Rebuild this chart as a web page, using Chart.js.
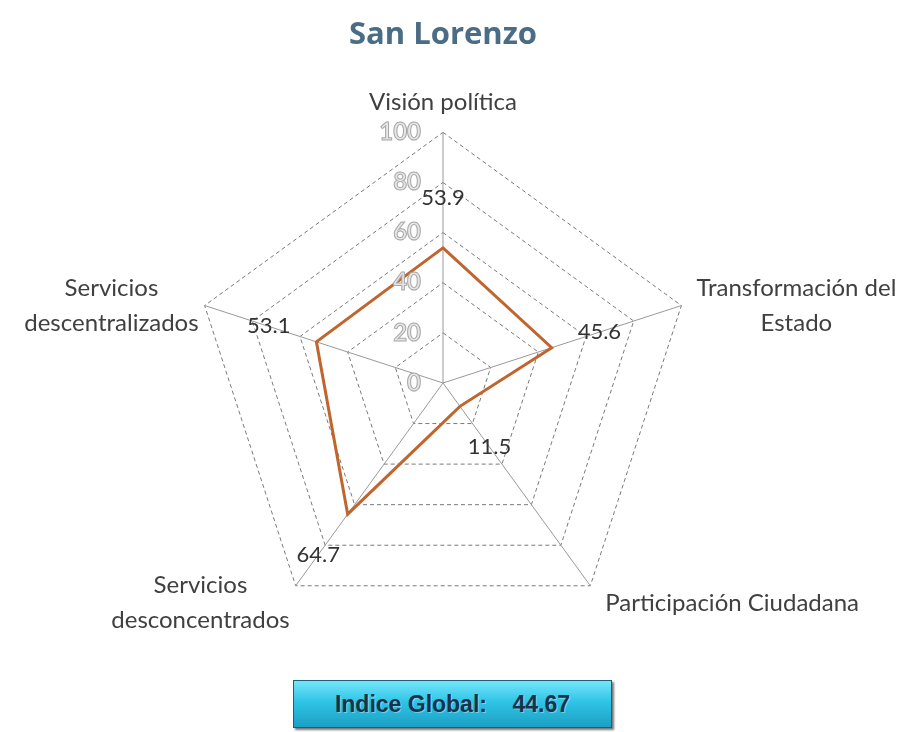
<!DOCTYPE html>
<html>
<head>
<meta charset="utf-8">
<script src="https://cdn.jsdelivr.net/npm/chart.js@4.4.0/dist/chart.umd.min.js"></script>
<style>
  body { margin: 0; background: #fff; }
  #wrap { position: relative; width: 909px; height: 732px; }
  #box { position: absolute; left: 293px; top: 680px; width: 317px; height: 46px;
    background: linear-gradient(#74e6fa, #2fc4e6 45%, #1b9fc4);
    border: 1px solid #1d5f74; box-shadow: 2px 2px 2px #777;
    font: bold 23px "Liberation Sans", Arial, sans-serif; color: #17324a;
    text-shadow: 1px 1px 0 rgba(255,255,255,0.35);
    text-align: center; line-height: 46px; white-space: pre; }
</style>
</head>
<body>
<div id="wrap">
  <canvas id="radar" width="909" height="670"></canvas>
  <div id="box">Indice Global:    44.67</div>
</div>
<script>
const chartTitle = "San Lorenzo";
const categories = ["Visión política", ["Transformación del", "Estado"], "Participación Ciudadana",
  ["Servicios", "desconcentrados"], ["Servicios", "descentralizados"]];
const values = [53.9, 45.6, 11.5, 64.7, 53.1];
const tickValues = [0, 20, 40, 60, 80, 100];

const labelPlugin = {
  id: "valueLabels",
  afterDatasetsDraw(chart) {
    const ctx = chart.ctx;
    const r = chart.scales.r;
    ctx.save();
    ctx.textBaseline = "middle";
    ctx.textAlign = "center";

    // title centred over the radar instead of the canvas
    const tb = chart.titleBlock;
    ctx.font = "bold 31px 'Open Sans', sans-serif";
    ctx.fillStyle = "#4a6c84";
    ctx.fillText(chartTitle, r.xCenter, tb.top + tb.height / 2 - 8);

    // category labels: blocks of centred lines just outside each outer corner
    ctx.fillStyle = "#404040";
    ctx.font = "24px Lato, sans-serif";
    const lh = 35;
    categories.forEach((c, i) => {
      const lines = [].concat(c);
      const v = r.getPointPositionForValue(i, 100);
      const w = Math.max(...lines.map(l => ctx.measureText(l).width));
      let cx = v.x, cy = v.y;
      if (v.x > r.xCenter + 5) cx = v.x + 15 + w / 2;
      else if (v.x < r.xCenter - 5) cx = v.x - 6 - w / 2;
      if (Math.abs(v.x - r.xCenter) < 5) cy = v.y - 30;
      else if (v.y > r.yCenter + 5) cy = v.y + 17;
      lines.forEach((ln, k) => {
        ctx.fillText(ln, cx, cy + (k - (lines.length - 1) / 2) * lh);
      });
    });

    // value labels, a bit further out along each spoke
    ctx.font = "22px Lato, sans-serif";
    ctx.fillStyle = "#333";
    values.forEach((v, i) => {
      const p = r.getPointPositionForValue(i, v + 20);
      ctx.fillText(v.toFixed(1), p.x, p.y);
    });

    // tick numbers, hollow grey, left of the top spoke
    ctx.font = "bold 24px Lato, sans-serif";
    ctx.textAlign = "right";
    ctx.lineWidth = 1;
    ctx.strokeStyle = "#a8a8a8";
    ctx.fillStyle = "#e6e6e6";
    tickValues.forEach(t => {
      const y = r.yCenter - r.getDistanceFromCenterForValue(t);
      ctx.fillText(t, r.xCenter - 22, y);
      ctx.strokeText(t, r.xCenter - 22, y);
    });
    ctx.restore();
  }
};

new Chart(document.getElementById("radar"), {
  type: "radar",
  plugins: [labelPlugin],
  data: {
    labels: categories,
    datasets: [{
      data: values,
      borderColor: "#c0652e",
      borderWidth: 3,
      fill: false,
      pointRadius: 0,
      tension: 0
    }]
  },
  options: {
    responsive: false,
    animation: false,
    layout: { padding: { left: 0, right: 9, top: 9, bottom: 0 } },
    plugins: {
      legend: { display: false },
      tooltip: { enabled: false },
      title: {
        // reserves the space, the text itself is drawn by the plugin
        display: true,
        text: chartTitle,
        color: "rgba(0,0,0,0)",
        font: { size: 31, weight: "bold", family: "'Open Sans', sans-serif" },
        padding: { top: 8, bottom: 24 }
      }
    },
    scales: {
      r: {
        min: 0,
        max: 100,
        ticks: { stepSize: 20, display: false },
        grid: { color: "#7a7a7a", lineWidth: 1 },
        border: { dash: [4, 3] },
        angleLines: { color: "#999", lineWidth: 1 },
        pointLabels: {
          // only used for layout, the visible labels are drawn by the plugin
          color: "rgba(0,0,0,0)",
          font: { size: 19, family: "'Open Sans', sans-serif", lineHeight: 1.85 },
          padding: 10
        }
      }
    }
  }
});
</script>
</body>
</html>
